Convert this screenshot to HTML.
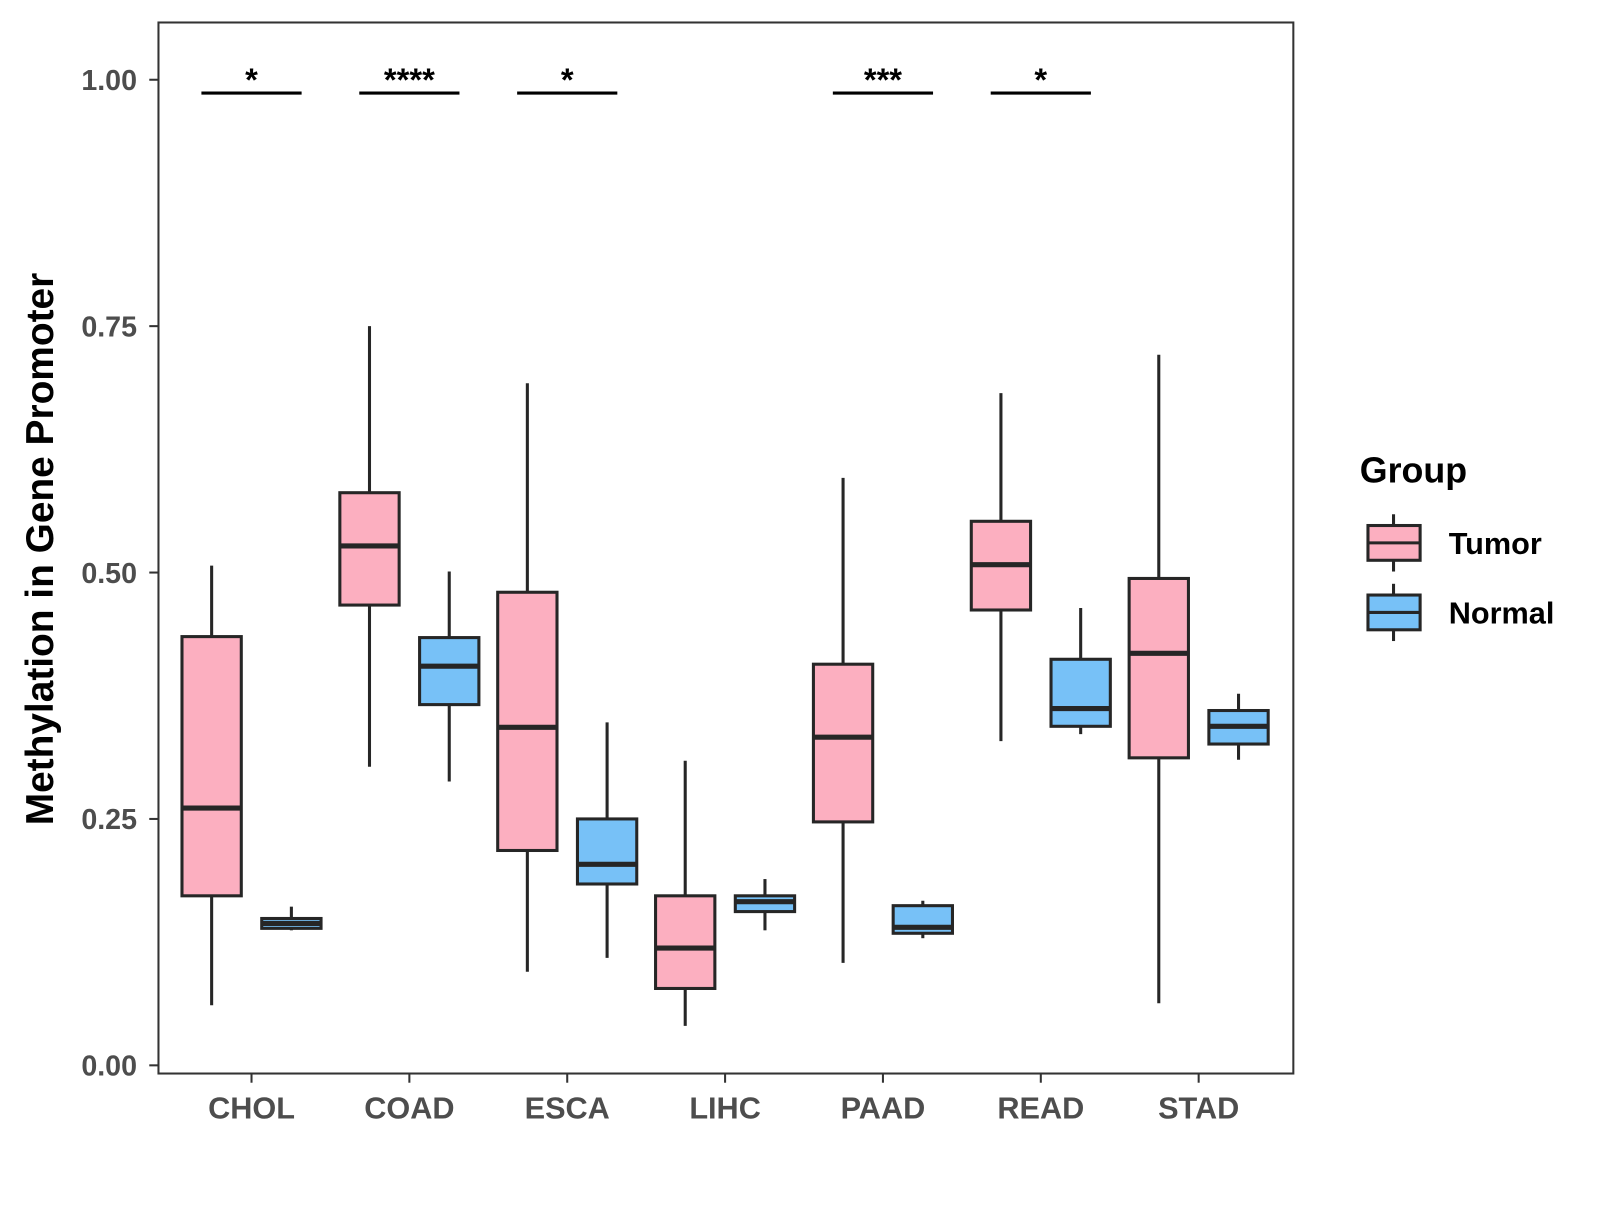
<!DOCTYPE html>
<html><head><meta charset="utf-8"><style>
html,body{margin:0;padding:0;background:#fff;}
svg text{font-family:"Liberation Sans",Arial,sans-serif;font-weight:bold;}
</style></head><body>
<svg width="1600" height="1200" xmlns="http://www.w3.org/2000/svg"><g id="chart" transform="scale(1.0224)"></g></svg>
<script>
const categories=["CHOL","COAD","ESCA","LIHC","PAAD","READ","STAD"];
// [low, q1, median, q3, high]
const tumorStats=[[0.061,0.172,0.261,0.435,0.507],[0.303,0.467,0.527,0.581,0.750],[0.095,0.218,0.343,0.480,0.692],[0.040,0.078,0.119,0.172,0.309],[0.104,0.247,0.333,0.407,0.596],[0.329,0.462,0.508,0.552,0.682],[0.063,0.312,0.418,0.494,0.721]];
const normalStats=[[0.137,0.139,0.144,0.149,0.161],[0.288,0.366,0.405,0.434,0.501],[0.109,0.184,0.204,0.250,0.348],[0.137,0.156,0.166,0.172,0.189],[0.129,0.134,0.140,0.162,0.167],[0.336,0.344,0.362,0.412,0.464],[0.310,0.326,0.344,0.360,0.377]];
const significance=["*","****","*","","***","*",""];
const yTicks=[0,0.25,0.5,0.75,1.0];
const yTickLabels=["0.00","0.25","0.50","0.75","1.00"];

const svg=document.getElementById('chart');
const NS="http://www.w3.org/2000/svg";
const y=v=>1042-964*v;
const x=i=>246+i*154.4;
function mk(tag,attrs,parent){const e=document.createElementNS(NS,tag);for(const k in attrs)e.setAttribute(k,attrs[k]);(parent||svg).appendChild(e);return e;}

const panel=mk('rect',{x:155,y:22,width:1110,height:1028,fill:'#fff',stroke:'#333','stroke-width':2});



yTicks.forEach((t,i)=>{
  const l=mk('line',{x1:146,x2:155,y1:y(t),y2:y(t),stroke:'#333','stroke-width':2});
  
  
  const tx=mk('text',{x:134,y:y(t)+10,'text-anchor':'end','font-size':28,fill:'#4d4d4d'});
  tx.textContent=yTickLabels[i];
  
  
});

function drawBox(cx,s,fill,name){
  const g=mk('g',{});
  
  
  mk('line',{x1:cx,x2:cx,y1:y(s[4]),y2:y(s[0]),stroke:'#262626','stroke-width':3},g);
  mk('rect',{x:cx-29,y:y(s[3]),width:58,height:y(s[1])-y(s[3]),fill:fill,stroke:'#262626','stroke-width':3},g);
  mk('line',{x1:cx-29,x2:cx+29,y1:y(s[2]),y2:y(s[2]),stroke:'#262626','stroke-width':5},g);
}

categories.forEach((c,i)=>{
  const cx=x(i);
  drawBox(cx-39,tumorStats[i],'#fcafc0','box-tumor-'+c.toLowerCase());
  drawBox(cx+39,normalStats[i],'#77c1f7','box-normal-'+c.toLowerCase());
  const tk=mk('line',{x1:cx,x2:cx,y1:1050,y2:1059,stroke:'#333','stroke-width':2});
  
  
  const tl=mk('text',{x:cx,y:1094,'text-anchor':'middle','font-size':30,fill:'#4d4d4d'});
  tl.textContent=c;
  
  
  if(significance[i]){
    const b=mk('line',{x1:cx-49,x2:cx+49,y1:91,y2:91,stroke:'#000','stroke-width':3});
    
    
    const st=mk('text',{x:cx,y:89,'text-anchor':'middle','font-size':32,fill:'#000'});
    st.textContent=significance[i];
    
    
  }
});

const yt=mk('text',{x:0,y:0,transform:'translate(52,537) rotate(-90)','text-anchor':'middle','font-size':38,fill:'#000'});
yt.textContent='Methylation in Gene Promoter';



const lt=mk('text',{x:1330,y:472,'font-size':35,fill:'#000'});
lt.textContent='Group';


[["Tumor",'#fcafc0',531],["Normal",'#77c1f7',599]].forEach(([lab,col,cy])=>{
  const g=mk('g',{});
  
  
  mk('line',{x1:1363,x2:1363,y1:cy-28,y2:cy+28,stroke:'#262626','stroke-width':3},g);
  mk('rect',{x:1338,y:cy-17,width:51,height:34,fill:col,stroke:'#262626','stroke-width':3},g);
  mk('line',{x1:1338,x2:1389,y1:cy,y2:cy,stroke:'#262626','stroke-width':3},g);
  const t=mk('text',{x:1417,y:cy+11,'font-size':30,fill:'#000'},g);
  t.textContent=lab;
});
</script>
</body></html>
